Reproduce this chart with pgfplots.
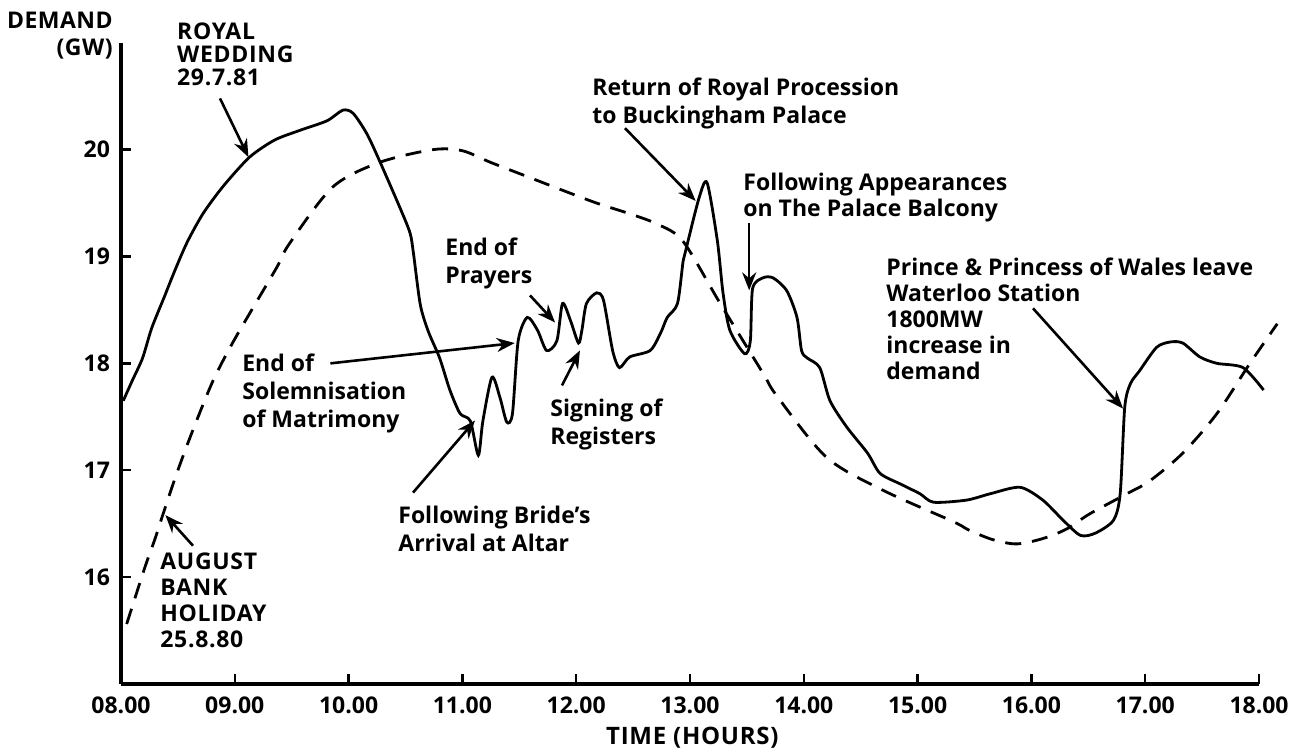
\documentclass[border=0pt]{standalone}
\usepackage{fontspec}
\setmainfont{Open Sans}
\usepackage{pgfplots}
\pgfplotsset{compat=1.18}
\usetikzlibrary{arrows.meta}

\tikzset{
  anno/.style={font=\fontsize{11.5}{14}\selectfont\bfseries, align=left, inner sep=0pt, anchor=north west},
  caps/.style={align=left, inner sep=0pt, anchor=north west},
  arr/.style={line width=1.3pt, -{Stealth[length=9pt,width=7pt]}},
}

\pgfplotstableread{
t v
8.02 17.65
8.10 17.84
8.19 18.05
8.27 18.33
8.38 18.62
8.47 18.86
8.58 19.13
8.72 19.40
8.90 19.66
9.13 19.93
9.35 20.09
9.57 20.18
9.81 20.27
9.95 20.37
10.04 20.34
10.16 20.15
10.27 19.90
10.45 19.46
10.54 19.22
10.57 19.03
10.63 18.55
10.70 18.30
10.80 18.05
10.89 17.75
10.98 17.53
11.07 17.46
11.14 17.14
11.18 17.46
11.26 17.87
11.33 17.68
11.39 17.45
11.44 17.53
11.49 18.21
11.57 18.43
11.66 18.31
11.74 18.12
11.83 18.21
11.88 18.56
11.95 18.40
12.02 18.19
12.05 18.31
12.09 18.56
12.18 18.66
12.24 18.59
12.32 18.12
12.38 17.96
12.47 18.06
12.65 18.12
12.74 18.28
12.80 18.43
12.89 18.56
12.94 18.96
12.97 19.09
13.08 19.55
13.15 19.69
13.24 19.15
13.29 18.66
13.35 18.31
13.48 18.09
13.53 18.21
13.55 18.70
13.64 18.80
13.73 18.80
13.85 18.68
13.94 18.43
13.98 18.12
14.03 18.05
14.14 17.96
14.23 17.65
14.38 17.40
14.56 17.16
14.67 16.97
14.85 16.87
15.02 16.78
15.14 16.70
15.43 16.72
15.64 16.78
15.90 16.84
16.10 16.72
16.28 16.53
16.43 16.39
16.56 16.41
16.72 16.53
16.78 16.78
16.82 17.59
16.87 17.81
16.95 17.93
17.10 18.15
17.22 18.20
17.33 18.19
17.48 18.06
17.63 18.00
17.86 17.96
18.04 17.75
}\royal

\pgfplotstableread{
t v
8.05 15.56
8.21 16.09
8.30 16.36
8.37 16.59
8.49 16.97
8.63 17.37
8.81 17.84
8.98 18.19
9.16 18.52
9.37 18.90
9.48 19.12
9.86 19.65
10.27 19.88
10.74 20.00
11.00 19.99
11.25 19.88
11.59 19.74
11.88 19.62
12.18 19.50
12.47 19.40
12.72 19.30
12.94 19.14
13.26 18.57
13.64 17.91
13.76 17.70
14.20 17.12
14.70 16.81
15.31 16.52
15.45 16.44
15.66 16.35
15.87 16.31
16.10 16.36
16.31 16.45
16.51 16.59
16.84 16.78
17.04 16.90
17.33 17.16
17.63 17.53
17.92 18.00
18.16 18.37
}\bank

\begin{document}
\begin{tikzpicture}
\begin{axis}[
  scale only axis, width=569pt, height=320.5pt,
  xmin=8, xmax=18, ymin=15, ymax=21,
  axis lines=left,
  axis line style={-, line width=1.8pt},
  xtick={8,9,10,11,12,13,14,15,16,17,18},
  xticklabels={08.00,09.00,10.00,11.00,12.00,13.00,14.00,15.00,16.00,17.00,18.00},
  ytick={16,17,18,19,20},
  yticklabels={16,17,18,19,20},
  tick align=inside,
  major tick length=5pt,
  tick style={line width=1.2pt, black},
  xticklabel style={font=\fontsize{11.5}{12}\selectfont\bfseries, yshift=-3pt},
  yticklabel style={font=\fontsize{11.5}{12}\selectfont\bfseries, xshift=-2pt},
  clip=false,
]
% frame
\path (axis cs:6.937,14.353) rectangle (axis cs:18.404,21.401);

\addplot[black, line width=1.4pt, smooth, tension=0.45] table[x=t,y=v] {\royal};
\addplot[black, line width=1.4pt, dash pattern=on 8pt off 5.5pt, smooth, tension=0.5] table[x=t,y=v] {\bank};

% axis titles
\node[font=\fontsize{11.5}{13.5}\selectfont\bfseries\addfontfeature{LetterSpace=2}, align=right, inner sep=0pt, anchor=north east] at (axis cs:7.93,21.29) {DEMAND\\(GW)};
\node[font=\fontsize{12}{13}\selectfont\bfseries\addfontfeature{LetterSpace=3}, inner sep=0pt] at (axis cs:13.02,14.50) {TIME (HOURS)};

% annotations
\node[caps, font=\fontsize{11.5}{11.5}\selectfont\bfseries\addfontfeature{LetterSpace=3}] at (axis cs:8.49,21.19) {ROYAL\\WEDDING\\29.7.81};
\draw[arr] (axis cs:8.87,20.48) -- (axis cs:9.12,19.93);

\node[caps, font=\fontsize{11.5}{13}\selectfont\bfseries\addfontfeature{LetterSpace=3}] at (axis cs:8.343,16.23) {AUGUST\\BANK\\HOLIDAY\\25.8.80};
\draw[arr] (axis cs:8.633,16.293) -- (axis cs:8.39,16.58);

\node[anno] at (axis cs:9.063,18.093) {End of\\Solemnisation\\of Matrimony};
\draw[arr] (axis cs:9.84,18.00) -- (axis cs:11.46,18.19);

\node[anno] at (axis cs:10.847,19.18) {End of\\Prayers};
\draw[arr] (axis cs:11.594,18.636) -- (axis cs:11.814,18.383);

\node[anno] at (axis cs:11.77,17.671) {Signing of\\Registers};
\draw[arr] (axis cs:11.875,17.793) -- (axis cs:12.033,18.121);

\node[anno] at (axis cs:10.434,16.668) {Following Bride’s\\Arrival at Altar};
\draw[arr] (axis cs:10.566,16.79) -- (axis cs:11.111,17.465);

\node[anno] at (axis cs:12.139,20.679) {Return of Royal Procession\\to Buckingham Palace};
\draw[arr] (axis cs:12.429,20.201) -- (axis cs:13.05,19.52);

\node[anno, font=\fontsize{11.5}{13}\selectfont\bfseries] at (axis cs:13.466,19.789) {Following Appearances\\on The Palace Balcony};
\draw[arr] (axis cs:13.52,19.311) -- (axis cs:13.52,18.683);

\node[anno, font=\fontsize{11.5}{13}\selectfont\bfseries] at (axis cs:14.722,18.99) {Prince \& Princess of Wales leave\\Waterloo Station\\1800MW\\increase in\\demand};
\draw[arr] (axis cs:16.014,18.515) -- (axis cs:16.805,17.577);
\end{axis}
\end{tikzpicture}
\end{document}
